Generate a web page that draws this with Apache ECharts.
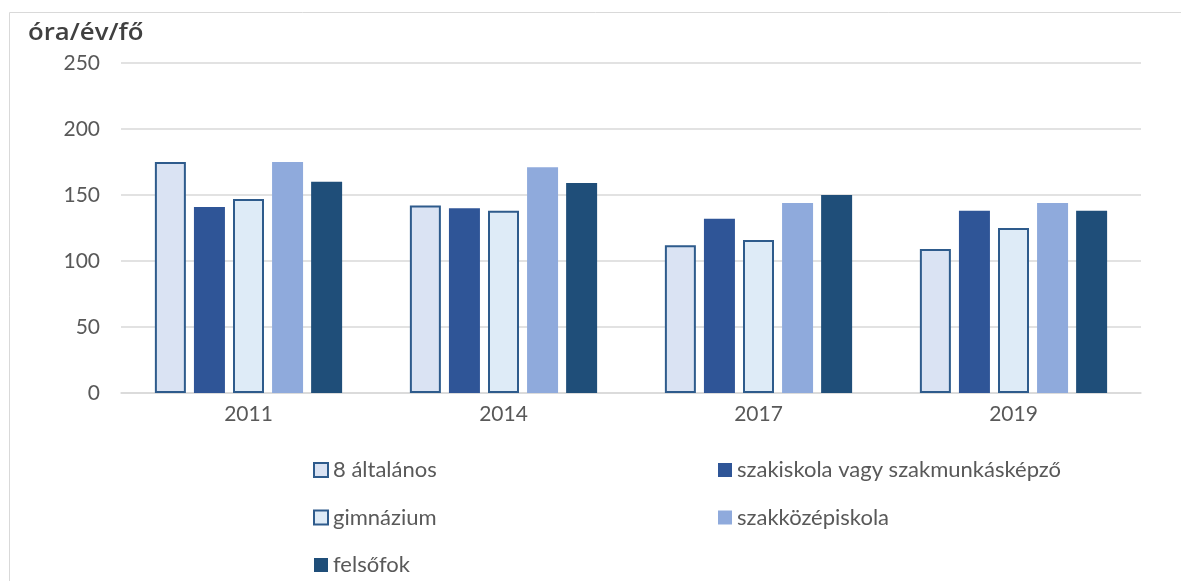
<!DOCTYPE html>
<html>
<head>
<meta charset="utf-8">
<script src="https://cdn.jsdelivr.net/npm/echarts@6/dist/echarts.min.js"></script>
<style>
  html, body { margin: 0; padding: 0; background: #fff; }
  #chart { width: 1181px; height: 581px; }
</style>
</head>
<body>
<div id="chart"></div>
<script>
const years = ['2011', '2014', '2017', '2019']
const yTicks = [0, 50, 100, 150, 200, 250]

// óra/év/fő
const altalanos = [175, 142, 112, 109]
const szakiskola = [141, 140, 132, 138]
const gimnazium = [147, 138, 116, 125]
const szakkozep = [175, 171, 144, 144]
const felsofok = [160, 159, 150, 138]

const font = 'Lato'
const textColor = '#595959'

const chart = echarts.init(document.getElementById('chart'))

function bar(name, data, color, border) {
  return {
    name: name,
    type: 'bar',
    data: data,
    barWidth: 31,
    barGap: '26%',
    itemStyle: border
      ? {color: color, borderColor: '#2E5B8C', borderWidth: 2}
      : {color: color},
    emphasis: {disabled: true}
  }
}

const legendStyle = {
  orient: 'vertical',
  padding: 0,
  height: 130,
  itemWidth: 14,
  itemHeight: 14,
  itemGap: 25.5,
  icon: 'rect',
  textStyle: {color: textColor, fontSize: 22, fontFamily: font, lineHeight: 22}
}

chart.setOption({
  animation: false,
  grid: {left: 121, right: 40, top: 63, bottom: 188},
  graphic: [{
    type: 'polyline',
    shape: {points: [[9.5, 581], [9.5, 12.5], [1181, 12.5]]},
    style: {stroke: '#d9d9d9', lineWidth: 1, fill: null}
  }, {
    type: 'text',
    left: 28,
    top: 22,
    scaleX: 1.12,
    style: {text: 'óra/év/fő', fill: '#404040', font: '600 23px "Open Sans"'}
  }],
  legend: [
    Object.assign({left: 313, top: 459, data: ['8 általános', 'gimnázium', 'felsőfok']}, legendStyle),
    Object.assign({left: 718, top: 459, data: ['szakiskola vagy szakmunkásképző', 'szakközépiskola']}, legendStyle)
  ],
  xAxis: {
    type: 'category',
    data: years,
    axisTick: {show: false},
    axisLine: {lineStyle: {color: '#d9d9d9', width: 1.5}},
    axisLabel: {color: textColor, fontSize: 21, fontFamily: font, margin: 11}
  },
  yAxis: {
    type: 'value',
    min: yTicks[0],
    max: yTicks[yTicks.length - 1],
    interval: 50,
    axisLine: {show: false},
    axisTick: {show: false},
    splitLine: {lineStyle: {color: '#d9d9d9', width: 1.5}},
    axisLabel: {color: textColor, fontSize: 21, fontFamily: font, margin: 21}
  },
  series: [
    bar('8 általános', altalanos, '#DAE3F3', true),
    bar('szakiskola vagy szakmunkásképző', szakiskola, '#2F5597', false),
    bar('gimnázium', gimnazium, '#DEEBF7', true),
    bar('szakközépiskola', szakkozep, '#8FAADC', false),
    bar('felsőfok', felsofok, '#1F4E79', false)
  ]
})
</script>
</body>
</html>
